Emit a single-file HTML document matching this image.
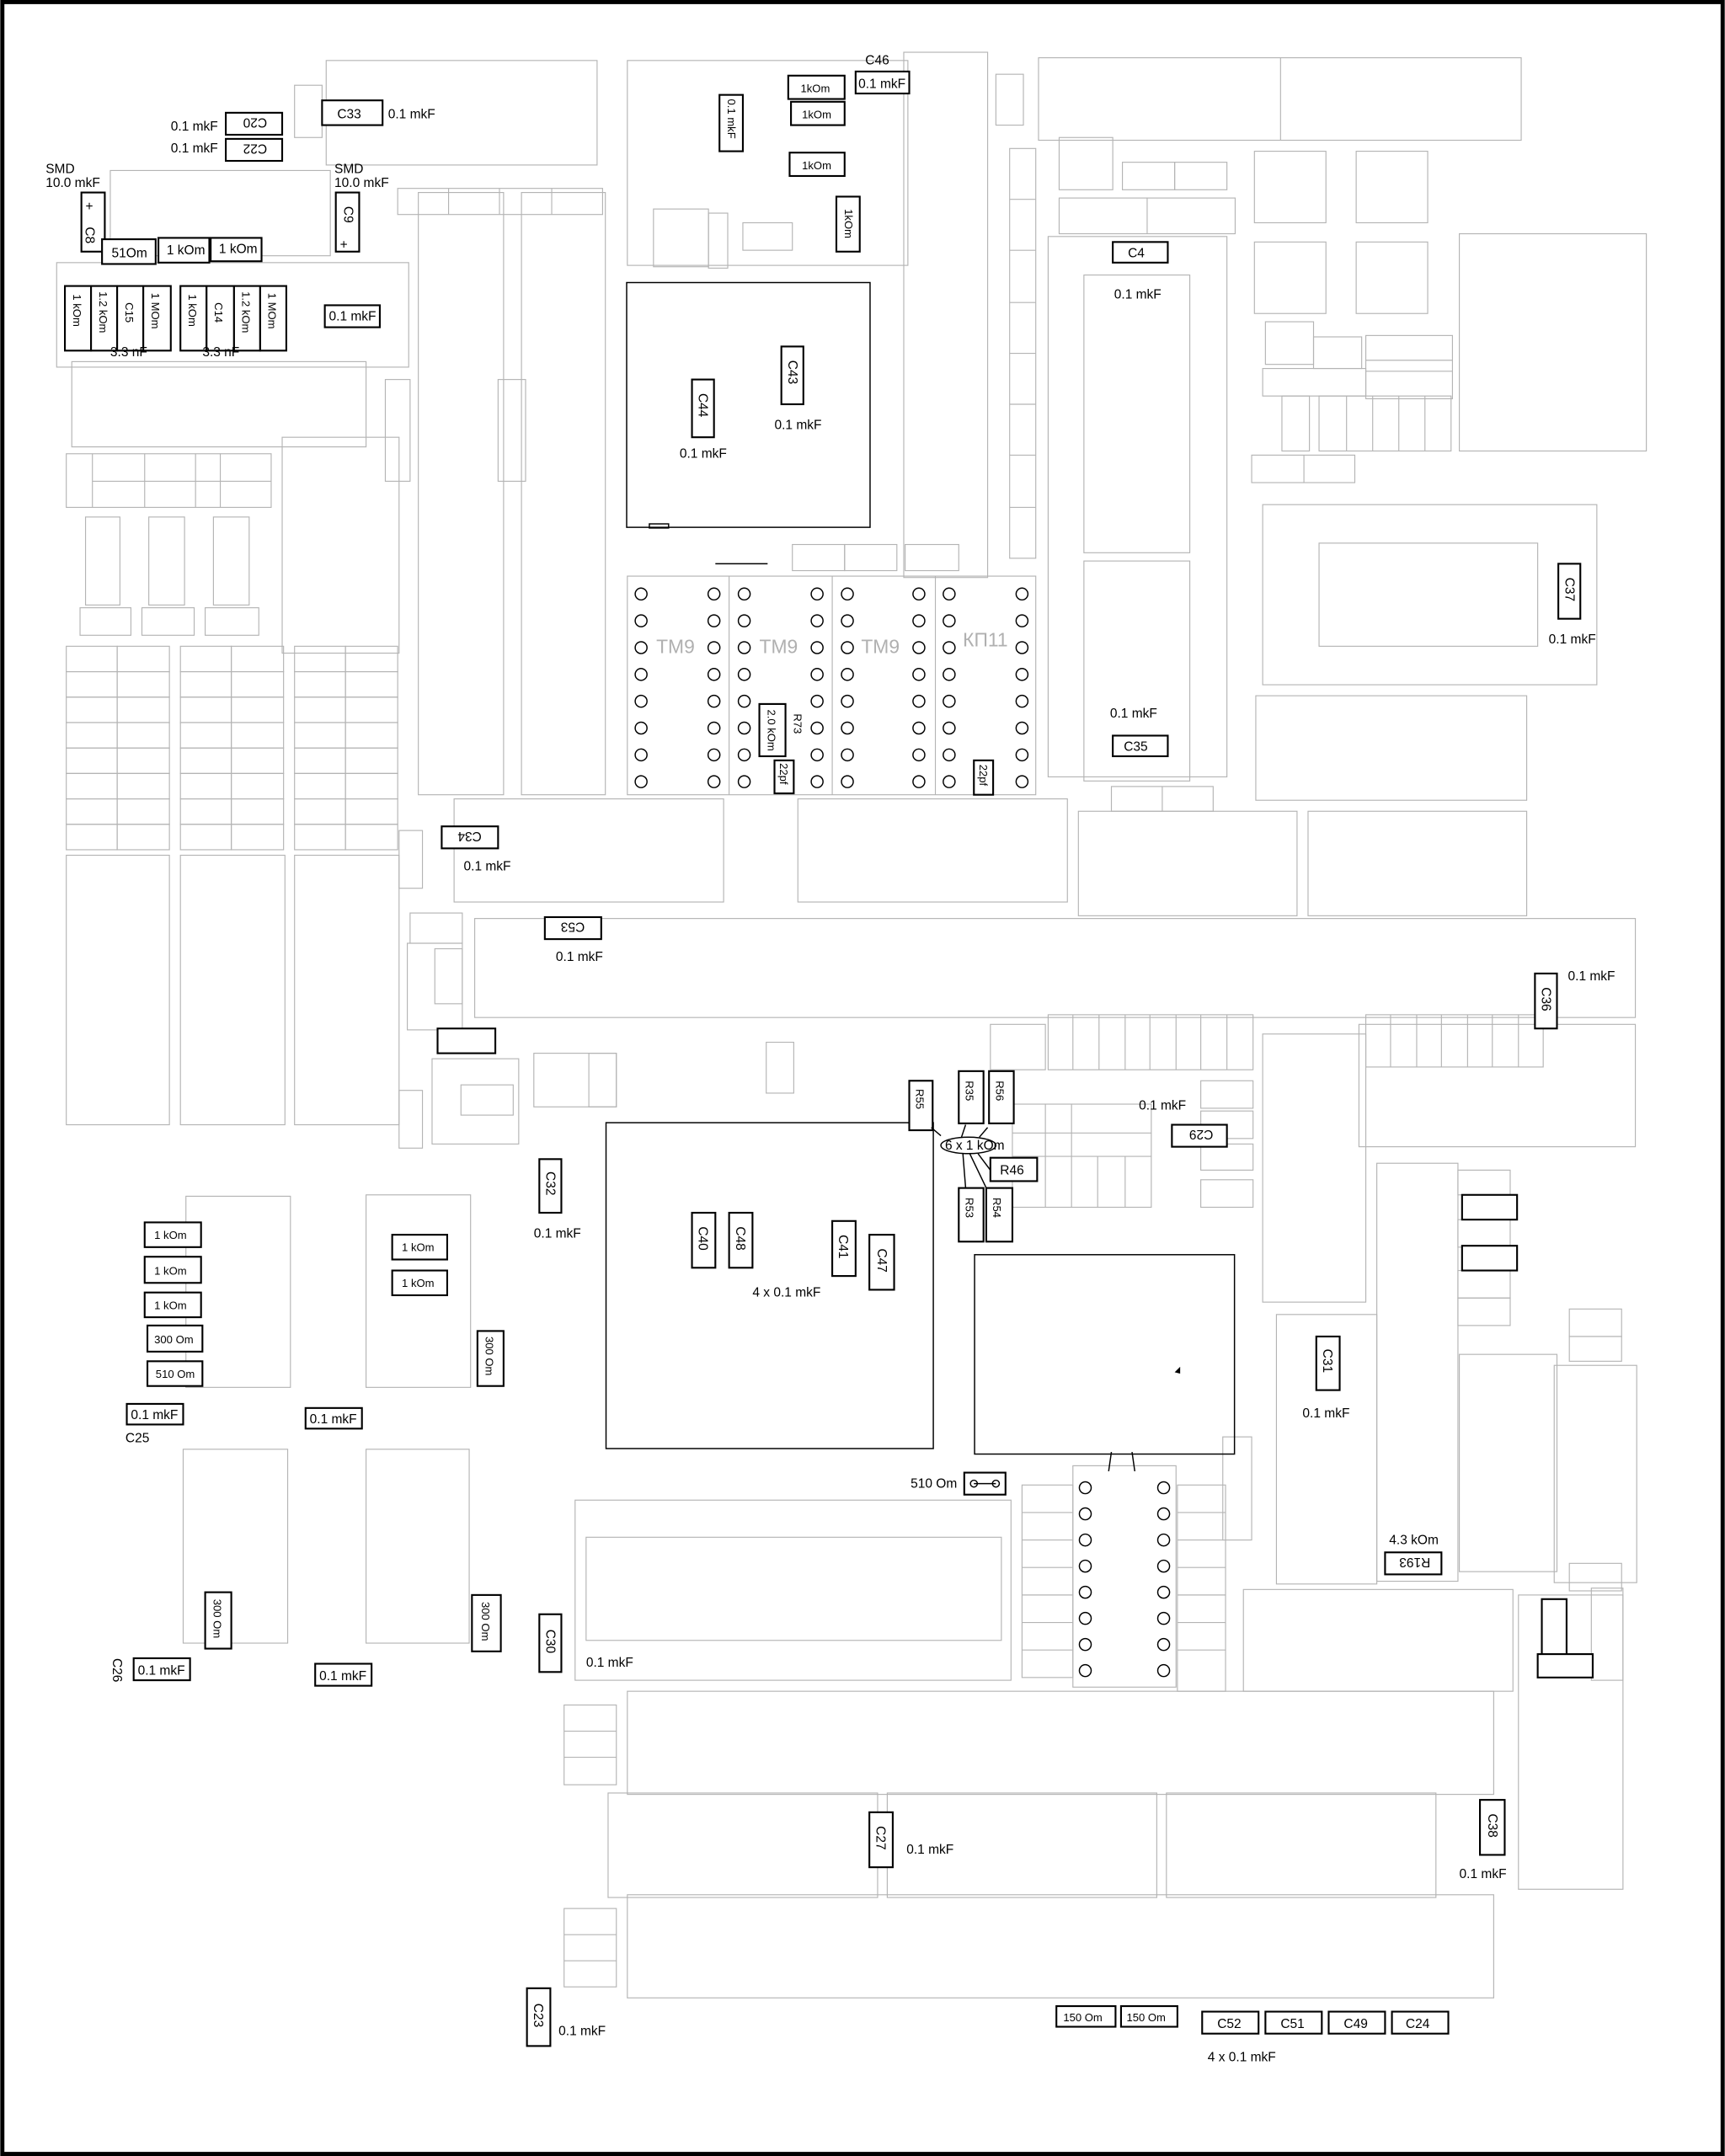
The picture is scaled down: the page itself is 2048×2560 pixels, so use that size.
<!DOCTYPE html>
<html><head><meta charset="utf-8"><style>
html,body{margin:0;padding:0;background:#fff;}
svg{display:block;}
.g{fill:none;stroke:#b4b4b4;stroke-width:0.7}
.b{fill:#fff;stroke:#000;stroke-width:1.3}
.k{fill:none;stroke:#000;stroke-width:0.9}
text{font-family:"Liberation Sans","DejaVu Sans",sans-serif;font-size:9.5px;fill:#000}
.t{font-size:14px;fill:#b0b0b0}
.s{font-size:8px}
</style></head><body>
<svg width="2048" height="2560" viewBox="0 0 1254 1568" xmlns="http://www.w3.org/2000/svg">
<defs>
<g id="pc"><circle cx="0" cy="0" r="4.3" class="k"/><circle cx="0" cy="19.5" r="4.3" class="k"/><circle cx="0" cy="39" r="4.3" class="k"/><circle cx="0" cy="58.5" r="4.3" class="k"/><circle cx="0" cy="78" r="4.3" class="k"/><circle cx="0" cy="97.5" r="4.3" class="k"/><circle cx="0" cy="117" r="4.3" class="k"/><circle cx="0" cy="136.5" r="4.3" class="k"/></g>
<g id="pc2"><circle cx="0" cy="0" r="4.3" class="k"/><circle cx="0" cy="19" r="4.3" class="k"/><circle cx="0" cy="38" r="4.3" class="k"/><circle cx="0" cy="57" r="4.3" class="k"/><circle cx="0" cy="76" r="4.3" class="k"/><circle cx="0" cy="95" r="4.3" class="k"/><circle cx="0" cy="114" r="4.3" class="k"/><circle cx="0" cy="133" r="4.3" class="k"/></g>
<g id="row"><rect class="g" x="0" y="0" width="37" height="18.5"/><rect class="g" x="37" y="0" width="38" height="18.5"/></g>
</defs>
<rect x="1.5" y="1.5" width="1251" height="1565" fill="#fff" stroke="#000" stroke-width="3"/>

<!-- gray outlines -->
<g>
<rect class="g" x="237" y="44" width="197" height="76"/>
<rect class="g" x="214" y="62" width="20" height="38"/>
<rect class="g" x="80" y="124" width="160" height="62"/>
<rect class="g" x="41" y="191" width="256" height="76"/>
<rect class="g" x="52" y="263" width="214" height="62"/>
<rect class="g" x="205" y="318" width="85" height="157"/>
<rect class="g" x="280" y="276" width="18" height="74"/>
<rect class="g" x="289" y="137" width="149" height="19"/>
<line class="g" x1="326" y1="137" x2="326" y2="156"/><line class="g" x1="363" y1="137" x2="363" y2="156"/><line class="g" x1="401" y1="137" x2="401" y2="156"/>
<rect class="g" x="304" y="140" width="62" height="438"/>
<rect class="g" x="379" y="140" width="61" height="438"/>
<rect class="g" x="362" y="276" width="20" height="74"/>
<rect class="g" x="456" y="44" width="204" height="149"/>
<rect class="g" x="657" y="38" width="61" height="382"/>
<rect class="g" x="475" y="152" width="40" height="42"/>
<rect class="g" x="515" y="155" width="14" height="40"/>
<rect class="g" x="540" y="162" width="36" height="20"/>
<rect class="g" x="576" y="396" width="38" height="19"/>
<rect class="g" x="614" y="396" width="38" height="19"/>
<rect class="g" x="658" y="396" width="39" height="19"/>
<rect class="g" x="724" y="54" width="20" height="37"/>
<rect class="g" x="755" y="42" width="351" height="60"/>
<line class="g" x1="931" y1="42" x2="931" y2="102"/>
<rect class="g" x="734" y="108" width="19" height="298"/>
<line class="g" x1="734" y1="145" x2="753" y2="145"/><line class="g" x1="734" y1="182" x2="753" y2="182"/><line class="g" x1="734" y1="220" x2="753" y2="220"/><line class="g" x1="734" y1="257" x2="753" y2="257"/><line class="g" x1="734" y1="294" x2="753" y2="294"/><line class="g" x1="734" y1="331" x2="753" y2="331"/><line class="g" x1="734" y1="369" x2="753" y2="369"/>
<rect class="g" x="770" y="100" width="39" height="38"/>
<rect class="g" x="816" y="118" width="38" height="20"/>
<rect class="g" x="854" y="118" width="38" height="20"/>
<rect class="g" x="770" y="144" width="128" height="26"/>
<line class="g" x1="834" y1="144" x2="834" y2="170"/>
<rect class="g" x="762" y="172" width="130" height="393"/>
<rect class="g" x="788" y="200" width="77" height="202"/>
<rect class="g" x="788" y="408" width="77" height="160"/>
<rect class="g" x="912" y="110" width="52" height="52"/>
<rect class="g" x="986" y="110" width="52" height="52"/>
<rect class="g" x="912" y="176" width="52" height="52"/>
<rect class="g" x="986" y="176" width="52" height="52"/>
<rect class="g" x="1061" y="170" width="136" height="158"/>
<rect class="g" x="920" y="234" width="35" height="31"/>
<rect class="g" x="955" y="245" width="35" height="23"/>
<rect class="g" x="993" y="244" width="63" height="46"/>
<line class="g" x1="993" y1="262" x2="1056" y2="262"/><line class="g" x1="993" y1="270" x2="1056" y2="270"/>
<rect class="g" x="918" y="268" width="75" height="20"/>
<rect class="g" x="932" y="288" width="20" height="40"/>
<rect class="g" x="959" y="288" width="96" height="40"/>
<line class="g" x1="979" y1="288" x2="979" y2="328"/><line class="g" x1="998" y1="288" x2="998" y2="328"/><line class="g" x1="1017" y1="288" x2="1017" y2="328"/><line class="g" x1="1036" y1="288" x2="1036" y2="328"/>
<rect class="g" x="910" y="331" width="75" height="20"/>
<line class="g" x1="948" y1="331" x2="948" y2="351"/>
<rect class="g" x="918" y="367" width="243" height="131"/>
<rect class="g" x="959" y="395" width="159" height="75"/>
<rect class="g" x="913" y="506" width="197" height="76"/>
<rect class="g" x="456" y="419" width="297" height="159"/>
<line class="g" x1="530" y1="419" x2="530" y2="578"/><line class="g" x1="605" y1="419" x2="605" y2="578"/><line class="g" x1="680" y1="419" x2="680" y2="578"/>
<rect class="g" x="330" y="581" width="196" height="75"/>
<rect class="g" x="580" y="581" width="196" height="75"/>
<rect class="g" x="784" y="590" width="159" height="76"/>
<rect class="g" x="951" y="590" width="159" height="76"/>
<rect class="g" x="808" y="572" width="74" height="18"/>
<line class="g" x1="845" y1="572" x2="845" y2="590"/>
<rect class="g" x="345" y="668" width="844" height="72"/>
<rect class="g" x="48" y="330" width="149" height="39"/>
<line class="g" x1="67" y1="330" x2="67" y2="369"/><line class="g" x1="105" y1="330" x2="105" y2="369"/><line class="g" x1="142" y1="330" x2="142" y2="369"/><line class="g" x1="160" y1="330" x2="160" y2="369"/><line class="g" x1="67" y1="350" x2="197" y2="350"/>
<rect class="g" x="62" y="376" width="25" height="64"/>
<rect class="g" x="108" y="376" width="26" height="64"/>
<rect class="g" x="155" y="376" width="26" height="64"/>
<rect class="g" x="58" y="442" width="37" height="20"/>
<rect class="g" x="103" y="442" width="38" height="20"/>
<rect class="g" x="149" y="442" width="39" height="20"/>
<use href="#row" x="48" y="470"/><use href="#row" x="48" y="488.5"/><use href="#row" x="48" y="507"/><use href="#row" x="48" y="525.5"/><use href="#row" x="48" y="544"/><use href="#row" x="48" y="562.5"/><use href="#row" x="48" y="581"/><use href="#row" x="48" y="599.5"/>
<use href="#row" x="131" y="470"/><use href="#row" x="131" y="488.5"/><use href="#row" x="131" y="507"/><use href="#row" x="131" y="525.5"/><use href="#row" x="131" y="544"/><use href="#row" x="131" y="562.5"/><use href="#row" x="131" y="581"/><use href="#row" x="131" y="599.5"/>
<use href="#row" x="214" y="470"/><use href="#row" x="214" y="488.5"/><use href="#row" x="214" y="507"/><use href="#row" x="214" y="525.5"/><use href="#row" x="214" y="544"/><use href="#row" x="214" y="562.5"/><use href="#row" x="214" y="581"/><use href="#row" x="214" y="599.5"/>
<rect class="g" x="48" y="622" width="75" height="196"/>
<rect class="g" x="131" y="622" width="76" height="196"/>
<rect class="g" x="214" y="622" width="76" height="196"/>
<rect class="g" x="290" y="604" width="17" height="42"/>
<rect class="g" x="290" y="793" width="17" height="42"/>
<rect class="g" x="298" y="664" width="38" height="22"/>
<rect class="g" x="296" y="686" width="40" height="63"/>
<rect class="g" x="316" y="690" width="20" height="40"/>
<rect class="g" x="314" y="770" width="63" height="62"/>
<rect class="g" x="335" y="789" width="38" height="22"/>
<rect class="g" x="388" y="766" width="60" height="39"/>
<rect class="g" x="428" y="766" width="20" height="39"/>
<rect class="g" x="557" y="758" width="20" height="37"/>
<rect class="g" x="762" y="738" width="149" height="40"/>
<line class="g" x1="780" y1="738" x2="780" y2="778"/><line class="g" x1="799" y1="738" x2="799" y2="778"/><line class="g" x1="818" y1="738" x2="818" y2="778"/><line class="g" x1="836" y1="738" x2="836" y2="778"/><line class="g" x1="855" y1="738" x2="855" y2="778"/><line class="g" x1="873" y1="738" x2="873" y2="778"/><line class="g" x1="892" y1="738" x2="892" y2="778"/>
<rect class="g" x="993" y="738" width="129" height="38"/>
<line class="g" x1="1011" y1="738" x2="1011" y2="776"/><line class="g" x1="1030" y1="738" x2="1030" y2="776"/><line class="g" x1="1048" y1="738" x2="1048" y2="776"/><line class="g" x1="1067" y1="738" x2="1067" y2="776"/><line class="g" x1="1085" y1="738" x2="1085" y2="776"/><line class="g" x1="1104" y1="738" x2="1104" y2="776"/>
<rect class="g" x="918" y="752" width="75" height="195"/>
<rect class="g" x="988" y="745" width="201" height="89"/>
<rect class="g" x="720" y="745" width="40" height="33"/>
<rect class="g" x="736" y="803" width="101" height="75"/>
<line class="g" x1="736" y1="824" x2="837" y2="824"/><line class="g" x1="736" y1="841" x2="837" y2="841"/><line class="g" x1="760" y1="803" x2="760" y2="878"/><line class="g" x1="779" y1="803" x2="779" y2="878"/><line class="g" x1="798" y1="841" x2="798" y2="878"/><line class="g" x1="818" y1="841" x2="818" y2="878"/>
<rect class="g" x="873" y="786" width="38" height="20"/>
<rect class="g" x="873" y="808" width="38" height="20"/>
<rect class="g" x="873" y="832" width="38" height="19"/>
<rect class="g" x="873" y="858" width="38" height="20"/>
<rect class="g" x="1001" y="846" width="59" height="304"/>
<rect class="g" x="1060" y="851" width="38" height="18"/>
<rect class="g" x="1060" y="887" width="38" height="20"/>
<rect class="g" x="1060" y="924" width="38" height="20"/>
<rect class="g" x="1060" y="944" width="38" height="20"/>
<rect class="g" x="1061" y="985" width="71" height="158"/>
<rect class="g" x="1130" y="993" width="60" height="158"/>
<rect class="g" x="1141" y="952" width="38" height="20"/>
<rect class="g" x="1141" y="972" width="38" height="18"/>
<rect class="g" x="928" y="956" width="73" height="196"/>
<rect class="g" x="135" y="870" width="76" height="139"/>
<rect class="g" x="266" y="869" width="76" height="140"/>
<rect class="g" x="133" y="1054" width="76" height="141"/>
<rect class="g" x="266" y="1054" width="75" height="141"/>
<rect class="g" x="418" y="1091" width="317" height="131"/>
<rect class="g" x="426" y="1118" width="302" height="75"/>
<rect class="g" x="780" y="1066" width="75" height="161"/>
<rect class="g" x="856" y="1080" width="35" height="150"/>
<line class="g" x1="856" y1="1100" x2="891" y2="1100"/><line class="g" x1="856" y1="1120" x2="891" y2="1120"/><line class="g" x1="856" y1="1140" x2="891" y2="1140"/><line class="g" x1="856" y1="1160" x2="891" y2="1160"/><line class="g" x1="856" y1="1180" x2="891" y2="1180"/><line class="g" x1="856" y1="1200" x2="891" y2="1200"/>
<rect class="g" x="743" y="1080" width="37" height="140"/>
<line class="g" x1="743" y1="1100" x2="780" y2="1100"/><line class="g" x1="743" y1="1120" x2="780" y2="1120"/><line class="g" x1="743" y1="1140" x2="780" y2="1140"/><line class="g" x1="743" y1="1160" x2="780" y2="1160"/><line class="g" x1="743" y1="1180" x2="780" y2="1180"/><line class="g" x1="743" y1="1200" x2="780" y2="1200"/>
<rect class="g" x="889" y="1045" width="21" height="75"/>
<rect class="g" x="904" y="1156" width="196" height="74"/>
<rect class="g" x="1104" y="1160" width="76" height="214"/>
<rect class="g" x="1157" y="1155" width="23" height="67"/>
<rect class="g" x="1141" y="1137" width="38" height="20"/>
<rect class="g" x="456" y="1230" width="630" height="75"/>
<rect class="g" x="442" y="1304" width="196" height="76"/>
<rect class="g" x="645" y="1304" width="196" height="76"/>
<rect class="g" x="848" y="1304" width="196" height="76"/>
<rect class="g" x="456" y="1378" width="630" height="75"/>
<rect class="g" x="410" y="1240" width="38" height="58"/>
<line class="g" x1="410" y1="1259" x2="448" y2="1259"/><line class="g" x1="410" y1="1278" x2="448" y2="1278"/>
<rect class="g" x="410" y="1388" width="38" height="57"/>
<line class="g" x1="410" y1="1407" x2="448" y2="1407"/><line class="g" x1="410" y1="1426" x2="448" y2="1426"/>
</g>

<!-- black outlines -->
<rect class="k" x="455.5" y="205.5" width="177" height="178"/>
<rect class="k" x="472" y="381" width="14" height="3"/>
<line class="k" x1="520" y1="410" x2="558" y2="410" stroke="#888"/>
<rect class="k" x="440.5" y="816.5" width="238" height="237"/>
<rect class="k" x="708.5" y="912.5" width="189" height="145"/>
<line class="k" x1="808" y1="1056" x2="806" y2="1070"/><line class="k" x1="823" y1="1056" x2="825" y2="1070"/>
<polygon points="854,998 858,994 858,999" fill="#000"/>
<rect class="b" x="318" y="748" width="42" height="18"/>

<!-- pins -->
<use href="#pc" x="466" y="432"/><use href="#pc" x="519" y="432"/>
<use href="#pc" x="541" y="432"/><use href="#pc" x="594" y="432"/>
<use href="#pc" x="616" y="432"/><use href="#pc" x="668" y="432"/>
<use href="#pc" x="690" y="432"/><use href="#pc" x="743" y="432"/>
<use href="#pc2" x="789" y="1082"/><use href="#pc2" x="846" y="1082"/>
<text class="t" x="477" y="475">TM9</text>
<text class="t" x="552" y="475">TM9</text>
<text class="t" x="626" y="475">TM9</text>
<text class="t" x="700" y="470">КП11</text>

<!-- components -->
<rect class="b" x="234" y="73" width="44" height="18"/><text x="245" y="86">C33</text><text x="282" y="86">0.1 mkF</text>
<rect class="b" x="164" y="82" width="41" height="16"/><text x="176" y="94" transform="rotate(180 185 90)">C20</text><text x="124" y="95">0.1 mkF</text>
<rect class="b" x="164" y="101" width="41" height="16"/><text x="176" y="113" transform="rotate(180 185 109)">C22</text><text x="124" y="111">0.1 mkF</text>
<text x="33" y="126">SMD</text><text x="33" y="136">10.0 mkF</text>
<rect class="b" x="59" y="140" width="17" height="43"/><text x="62" y="153" font-size="14">+</text><text x="62" y="175" transform="rotate(90 67 170)">C8</text>
<text x="243" y="126">SMD</text><text x="243" y="136">10.0 mkF</text>
<rect class="b" x="244" y="140" width="17" height="43"/><text x="247" y="181" font-size="14">+</text><text x="248" y="158" transform="rotate(90 253 155)">C9</text>
<rect class="b" x="74" y="174" width="39" height="18"/><text x="81" y="187">51Om</text>
<rect class="b" x="115" y="173" width="37" height="18"/><text x="121" y="185">1 kOm</text>
<rect class="b" x="153" y="173" width="37" height="17"/><text x="159" y="184">1 kOm</text>
<g>
<rect class="b" x="47" y="208" width="19" height="47"/><rect class="b" x="66" y="208" width="19" height="47"/><rect class="b" x="85" y="208" width="19" height="47"/><rect class="b" x="104" y="208" width="20" height="47"/>
<rect class="b" x="131" y="208" width="19" height="47"/><rect class="b" x="150" y="208" width="20" height="47"/><rect class="b" x="170" y="208" width="19" height="47"/><rect class="b" x="189" y="208" width="19" height="47"/>
<text class="s" transform="translate(53 214) rotate(90)">1 kOm</text>
<text class="s" transform="translate(72 212) rotate(90)">1.2 kOm</text>
<text class="s" transform="translate(91 220) rotate(90)">C15</text>
<text class="s" transform="translate(110 213) rotate(90)">1 MOm</text>
<text class="s" transform="translate(137 214) rotate(90)">1 kOm</text>
<text class="s" transform="translate(156 220) rotate(90)">C14</text>
<text class="s" transform="translate(176 212) rotate(90)">1.2 kOm</text>
<text class="s" transform="translate(195 213) rotate(90)">1 MOm</text>
</g>
<text x="80" y="259">3.3 nF</text><text x="147" y="259">3.3 nF</text>
<rect class="b" x="236" y="222" width="40" height="16"/><text x="239" y="233">0.1 mkF</text>
<text x="629" y="47">C46</text>
<rect class="b" x="622" y="52" width="39" height="16"/><text x="624" y="64">0.1 mkF</text>
<rect class="b" x="573" y="55" width="41" height="17"/><text x="582" y="67" class="s">1kOm</text>
<rect class="b" x="575" y="74" width="39" height="17"/><text x="583" y="86" class="s">1kOm</text>
<rect class="b" x="574" y="111" width="40" height="17"/><text x="583" y="123" class="s">1kOm</text>
<rect class="b" x="523" y="69" width="17" height="41"/><text class="s" transform="translate(529 72) rotate(90)">0.1 mkF</text>
<rect class="b" x="608" y="143" width="17" height="40"/><text class="s" transform="translate(614 152) rotate(90)">1kOm</text>
<rect class="b" x="809" y="176" width="40" height="15"/><text x="820" y="187">C4</text>
<text x="810" y="217">0.1 mkF</text>
<rect class="b" x="568" y="252" width="16" height="42"/><text transform="translate(573 262) rotate(90)">C43</text><text x="563" y="312">0.1 mkF</text>
<rect class="b" x="503" y="276" width="16" height="42"/><text transform="translate(508 286) rotate(90)">C44</text><text x="494" y="333">0.1 mkF</text>
<rect class="b" x="1133" y="410" width="16" height="40"/><text transform="translate(1138 420) rotate(90)">C37</text><text x="1126" y="468">0.1 mkF</text>
<text x="807" y="522">0.1 mkF</text>
<rect class="b" x="809" y="535" width="40" height="15"/><text x="817" y="546">C35</text>
<rect class="b" x="552" y="512" width="19" height="38"/><text class="s" transform="translate(558 516) rotate(90)">2.0 kOm</text>
<text class="s" transform="translate(577 519) rotate(90)">R73</text>
<rect class="b" x="563" y="553" width="14" height="24"/><text class="s" transform="translate(567 555) rotate(90)">22pf</text>
<rect class="b" x="708" y="553" width="14" height="25"/><text class="s" transform="translate(712 556) rotate(90)">22pf</text>
<rect class="b" x="321" y="601" width="41" height="16"/><text transform="rotate(180 341 609)" x="332" y="613">C34</text><text x="337" y="633">0.1 mkF</text>
<rect class="b" x="396" y="667" width="41" height="16"/><text transform="rotate(180 416 675)" x="407" y="679">C53</text><text x="404" y="699">0.1 mkF</text>
<rect class="b" x="1116" y="708" width="16" height="40"/><text transform="translate(1121 718) rotate(90)">C36</text><text x="1140" y="713">0.1 mkF</text>
<rect class="b" x="661" y="786" width="17" height="36"/><text class="s" transform="translate(666 792) rotate(90)">R55</text>
<rect class="b" x="697" y="779" width="18" height="38"/><text class="s" transform="translate(702 786) rotate(90)">R35</text>
<rect class="b" x="719" y="779" width="18" height="38"/><text class="s" transform="translate(724 786) rotate(90)">R56</text>
<ellipse cx="704" cy="833" rx="20" ry="6" class="k"/><text x="687" y="836" font-size="7.5">6 x 1 kOm</text>
<line class="k" x1="684" y1="826" x2="677" y2="820"/><line class="k" x1="699" y1="827" x2="702" y2="818"/><line class="k" x1="712" y1="827" x2="718" y2="820"/>
<line class="k" x1="711" y1="839" x2="720" y2="851"/><line class="k" x1="700" y1="839" x2="702" y2="864"/><line class="k" x1="705" y1="839" x2="717" y2="864"/>
<rect class="b" x="720" y="842" width="34" height="17"/><text x="727" y="854">R46</text>
<rect class="b" x="697" y="864" width="18" height="39"/><text class="s" transform="translate(702 871) rotate(90)">R53</text>
<rect class="b" x="717" y="864" width="19" height="39"/><text class="s" transform="translate(722 871) rotate(90)">R54</text>
<text x="828" y="807">0.1 mkF</text>
<rect class="b" x="852" y="818" width="40" height="16"/><text transform="rotate(180 872 826)" x="862" y="830">C29</text>
<rect class="b" x="392" y="843" width="16" height="39"/><text transform="translate(397 852) rotate(90)">C32</text><text x="388" y="900">0.1 mkF</text>
<rect class="b" x="503" y="882" width="17" height="40"/><text transform="translate(508 892) rotate(90)">C40</text>
<rect class="b" x="530" y="882" width="17" height="40"/><text transform="translate(535 892) rotate(90)">C48</text>
<rect class="b" x="605" y="888" width="17" height="40"/><text transform="translate(610 898) rotate(90)">C41</text>
<rect class="b" x="632" y="898" width="18" height="40"/><text transform="translate(638 908) rotate(90)">C47</text>
<text x="547" y="943">4 x 0.1 mkF</text>
<rect class="b" x="105" y="889" width="41" height="18"/><text class="s" x="112" y="901">1 kOm</text>
<rect class="b" x="105" y="914" width="41" height="19"/><text class="s" x="112" y="927">1 kOm</text>
<rect class="b" x="105" y="940" width="41" height="18"/><text class="s" x="112" y="952">1 kOm</text>
<rect class="b" x="107" y="964" width="40" height="19"/><text class="s" x="112" y="977">300 Om</text>
<rect class="b" x="107" y="990" width="40" height="18"/><text class="s" x="113" y="1002">510 Om</text>
<rect class="b" x="285" y="898" width="40" height="18"/><text class="s" x="292" y="910">1 kOm</text>
<rect class="b" x="285" y="924" width="40" height="18"/><text class="s" x="292" y="936">1 kOm</text>
<rect class="b" x="347" y="968" width="19" height="40"/><text class="s" transform="translate(353 972) rotate(90)">300 Om</text>
<rect class="b" x="92" y="1021" width="41" height="15" stroke-width="0.9"/><text x="95" y="1032">0.1 mkF</text><text x="91" y="1049">C25</text>
<rect class="b" x="222" y="1024" width="41" height="15" stroke-width="0.9"/><text x="225" y="1035">0.1 mkF</text>
<rect class="b" x="957" y="972" width="17" height="39"/><text transform="translate(962 981) rotate(90)">C31</text><text x="947" y="1031">0.1 mkF</text>
<text x="662" y="1082">510 Om</text>
<rect class="b" x="701" y="1071" width="30" height="16"/><circle cx="708" cy="1079" r="2.5" class="k"/><circle cx="724" cy="1079" r="2.5" class="k"/><line class="k" x1="708" y1="1079" x2="724" y2="1079"/>
<text x="1010" y="1123">4.3 kOm</text>
<rect class="b" x="1007" y="1129" width="41" height="16"/><text transform="rotate(180 1027 1137)" x="1014" y="1141">R193</text>
<rect class="b" x="149" y="1158" width="19" height="41"/><text class="s" transform="translate(155 1163) rotate(90)">300 Om</text>
<rect class="b" x="343" y="1160" width="21" height="41"/><text class="s" transform="translate(350 1165) rotate(90)">300 Om</text>
<text transform="translate(82 1206) rotate(90)">C26</text>
<rect class="b" x="97" y="1206" width="41" height="16" stroke-width="0.9"/><text x="100" y="1218">0.1 mkF</text>
<rect class="b" x="229" y="1210" width="41" height="16" stroke-width="0.9"/><text x="232" y="1222">0.1 mkF</text>
<rect class="b" x="392" y="1174" width="16" height="42"/><text transform="translate(397 1185) rotate(90)">C30</text><text x="426" y="1212">0.1 mkF</text>
<rect class="b" x="632" y="1318" width="17" height="40"/><text transform="translate(637 1328) rotate(90)">C27</text><text x="659" y="1348">0.1 mkF</text>
<rect class="b" x="1076" y="1309" width="18" height="40"/><text transform="translate(1082 1319) rotate(90)">C38</text><text x="1061" y="1366">0.1 mkF</text>
<rect class="b" x="383" y="1446" width="17" height="42"/><text transform="translate(388 1457) rotate(90)">C23</text><text x="406" y="1480">0.1 mkF</text>
<rect class="b" x="768" y="1459" width="43" height="15"/><text class="s" x="773" y="1470">150 Om</text>
<rect class="b" x="815" y="1459" width="41" height="15"/><text class="s" x="819" y="1470">150 Om</text>
<rect class="b" x="874" y="1463" width="41" height="16"/><text x="885" y="1475">C52</text>
<rect class="b" x="920" y="1463" width="41" height="16"/><text x="931" y="1475">C51</text>
<rect class="b" x="966" y="1463" width="41" height="16"/><text x="977" y="1475">C49</text>
<rect class="b" x="1012" y="1463" width="41" height="16"/><text x="1022" y="1475">C24</text>
<text x="878" y="1499">4 x 0.1 mkF</text>
<rect class="b" x="1063" y="869" width="40" height="18"/>
<rect class="b" x="1063" y="906" width="40" height="18"/>
<rect class="b" x="1121" y="1163" width="18" height="42"/>
<rect class="b" x="1118" y="1203" width="40" height="17" fill="none"/>
</svg>
</body></html>
